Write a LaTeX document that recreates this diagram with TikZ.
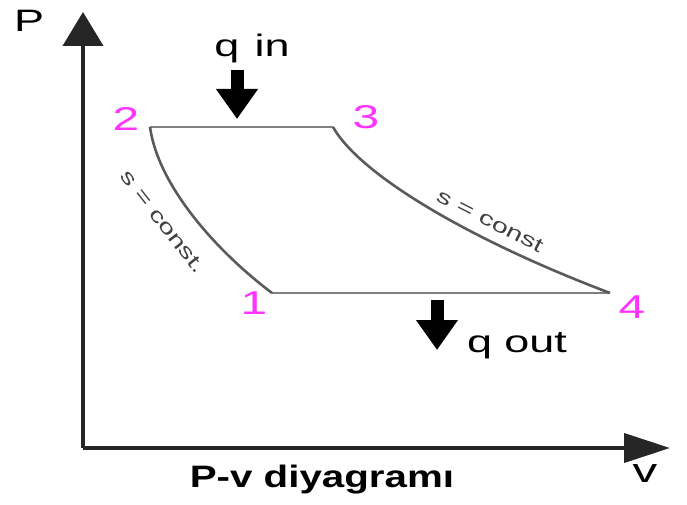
\documentclass[tikz,border=0pt]{standalone}
\usepackage{fontspec}
\setmainfont[FakeStretch=1.45]{Liberation Sans}
\newfontfamily\titlefont[FakeStretch=1.3]{Liberation Sans}
\usetikzlibrary{arrows.meta}
\usetikzlibrary{calc,positioning}
\definecolor{ptpink}{HTML}{FF33FF}
\definecolor{cycgray}{HTML}{5A5A5A}

\begin{document}
\begin{tikzpicture}[x=1pt, y=-1pt,
  axis/.style={line width=4pt, black!85},
  heat/.style={line width=13pt, black, -{Triangle[length=30pt,width=40pt]}},
  cyc/.style={line width=2.6pt, cycgray},
  numlbl/.style={text=ptpink, font=\fontsize{33}{38}\selectfont},
  txt/.style={font=\fontsize{31}{36}\selectfont, inner sep=0pt},
  slbl/.style={font=\fontsize{20}{24}\selectfont, text=black!75, inner sep=0pt}]
  \useasboundingbox (0,0) rectangle (687,505);

  % axes
  \coordinate (O) at (83,448);
  \coordinate (Ptop) at (83,12);
  \coordinate (vend) at (670,448);
  \draw[axis, -{Triangle[length=34pt,width=40pt]}] (O) -- (Ptop);
  \draw[axis, -{Triangle[length=46pt,width=29pt]}] (O) -- (vend);
  \node[txt] (Plbl) at (29,21) {P};
  \node[txt, font=\fontsize{34}{40}\selectfont] (vlbl) at (645,474) {v};

  % cycle states
  \coordinate (s1) at (272,293);
  \coordinate (s2) at (150,127);
  \coordinate (s3) at (333,127);
  \coordinate (s4) at (610,293);
  \draw[cyc, gray] (s2) -- (s3);
  \draw[cyc, gray] (s1) -- (s4);
  \draw[cyc] (s2) .. controls (158,185) and (215,250) .. (s1);
  \draw[cyc] (s3) .. controls (360,175) and (470,240) .. (s4);

  \node[numlbl] (n1) at (254,303) {1};
  \node[numlbl] (n2) at (126,119) {2};
  \node[numlbl] (n3) at (366,117) {3};
  \node[numlbl] (n4) at (632,307) {4};

  \node[slbl, rotate=-52] (sc1) at (163,222) {s = const.};
  \node[slbl, rotate=-27] (sc2) at (490,221) {s = const};

  % heat in / out
  \coordinate (qinA) at (237,70);
  \coordinate (qinB) at (237,119);
  \draw[heat] (qinA) -- (qinB);
  \node[txt] (qin) at (252,48) {q\hspace{3pt} in};

  \coordinate (qoutA) at (437,300);
  \coordinate (qoutB) at (437,350);
  \draw[heat] (qoutA) -- (qoutB);
  \node[txt] (qout) at (517,346) {q out};

  \node[txt, font=\titlefont\bfseries\fontsize{31}{36}\selectfont] (title) at (322,480) {P-v diyagramı};
\end{tikzpicture}
\end{document}
